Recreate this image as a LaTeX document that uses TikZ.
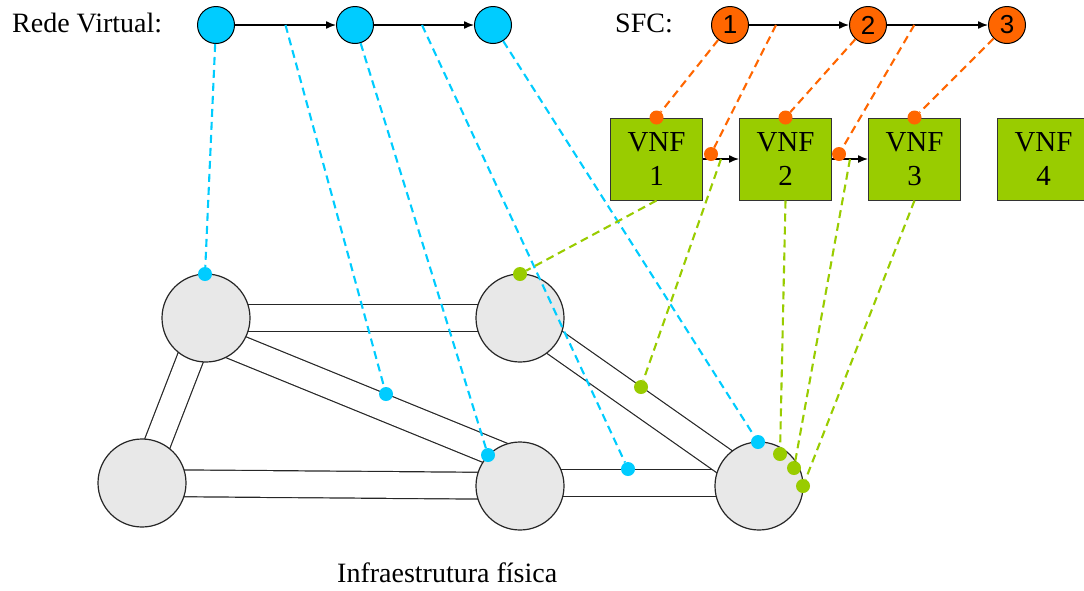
\documentclass[tikz,border=0pt]{standalone}
\usepackage{fontspec}
\setmainfont{Liberation Serif}
\newfontfamily\numfont{Liberation Sans}
\usetikzlibrary{arrows.meta,positioning,backgrounds}
\definecolor{vblue}{HTML}{00CCFF}
\definecolor{sorange}{HTML}{FF6600}
\definecolor{fgreen}{HTML}{99CC00}
\definecolor{pgray}{HTML}{E8E8E8}
\tikzset{
    %Define standard arrow tip
    >={Latex[length=10pt,width=8pt]},
    %Define style for virtual nodes
    vnode/.style={
           circle,
           draw=black, line width=1pt,
           fill=vblue,
           minimum size=37pt,
           inner sep=0pt},
    sfcnode/.style={
           circle,
           draw=black, line width=1pt,
           fill=sorange,
           minimum size=37pt,
           inner sep=0pt,
           font=\numfont\fontsize{26}{26}\selectfont},
    %Define style for VNF boxes
    vnfbox/.style={
           rectangle,
           draw=black!80, line width=1pt,
           fill=fgreen,
           minimum width=92pt,
           minimum height=82pt,
           align=center,
           font=\fontsize{29}{34}\selectfont},
    %Define style for physical nodes and links
    phys/.style={
           circle,
           draw=black!85, line width=1.2pt,
           fill=pgray,
           minimum size=88pt,
           inner sep=0pt},
    pipe/.style={
           draw=black!85, line width=1.2pt,
           double=white,
           double distance=25.6pt},
    % Define arrow style
    vflow/.style={
           ->,
           line width=1.4pt},
    maplink/.style={
           dash pattern=on 8pt off 5pt,
           line width=2.1pt},
    mapdot/.style={
           circle,
           fill=#1,
           minimum size=14pt,
           inner sep=0pt},
    lbl/.style={
           font=\fontsize{28}{32}\selectfont,
           inner sep=0pt}
}
\begin{document}
\begin{tikzpicture}[x=1pt,y=-1pt]
\useasboundingbox (0,0) rectangle (1084,590);

% virtual network
\node[lbl, anchor=base west] (rvlabel) at (12,32) {Rede Virtual:};
\node[vnode] (vn1) at (216,25) {};
\node[vnode, right=101pt of vn1] (vn2) {};
\node[vnode, right=100pt of vn2] (vn3) {};
\draw[vflow] (vn1) -- coordinate[pos=.5] (m1) (vn2);
\draw[vflow] (vn2) -- coordinate[pos=.48] (m2) (vn3);

% service function chain
\node[lbl, anchor=base west] (sfclabel) at (615,32) {SFC:};
\node[sfcnode] (sfc1) at (730,25) {1};
\node[sfcnode, right=100pt of sfc1] (sfc2) {2};
\node[sfcnode, right=101pt of sfc2] (sfc3) {3};
\draw[vflow] (sfc1) -- coordinate[pos=.27] (s1) (sfc2);
\draw[vflow] (sfc2) -- coordinate[pos=.27] (s2) (sfc3);

% VNFs
\node[vnfbox] (vnf1) at (656.5,159) {VNF\\1};
\node[vnfbox, right=36pt of vnf1] (vnf2) {VNF\\2};
\node[vnfbox, right=36pt of vnf2] (vnf3) {VNF\\3};
\node[vnfbox, right=36pt of vnf3] (vnf4) {VNF\\4};
\draw[vflow] (vnf1) -- coordinate[pos=.5] (f1) (vnf2);
\draw[vflow] (vnf2) -- coordinate[pos=.5] (f2) (vnf3);

% physical infrastructure
\node[phys] (pA) at (206,318) {};
\node[phys] (pB) at (520,318) {};
\node[phys] (pD) at (142,483) {};
\node[phys] (pC) at (520,486) {};
\node[phys] (pE) at (759,486) {};
\begin{scope}[on background layer]
\draw[pipe] (pA.center) -- (pB.center);
\draw[pipe] (pA.center) -- (pD.center);
\draw[pipe] ([yshift=-17pt]pA.center) -- ([yshift=23pt]pC.center);
\draw[pipe] (pD.center) -- (pC.center);
\draw[pipe] ([yshift=3pt]pC.center) -- ([yshift=3pt]pE.center);
\draw[pipe] (pB.center) -- (pE.center);
\end{scope}
\node[lbl, anchor=base west] (infra) at (337,582) {Infraestrutura física};

% mapping points
\node[mapdot=vblue] (bd1) at (205,274) {};
\node[mapdot=vblue] (bd2) at (386,394) {};
\node[mapdot=vblue] (bd3) at (488,455) {};
\node[mapdot=vblue] (bd4) at (628,469) {};
\node[mapdot=vblue] (bd5) at (758,442) {};
\node[mapdot=fgreen] (gd1) at (520,274) {};
\node[mapdot=fgreen] (gd2) at (641,387) {};
\node[mapdot=fgreen] (gd3) at (780,454) {};
\node[mapdot=fgreen] (gd4) at (794,468) {};
\node[mapdot=fgreen] (gd5) at (803,486) {};
\node[mapdot=sorange] (od1) at (vnf1.north) {};
\node[mapdot=sorange] (od2) at (711,154) {};
\node[mapdot=sorange] (od3) at (vnf2.north) {};
\node[mapdot=sorange] (od4) at (839,154) {};
\node[mapdot=sorange] (od5) at (vnf3.north) {};

% mappings
\draw[maplink, vblue] (vn1) -- (bd1);
\draw[maplink, vblue] (m1) -- (bd2);
\draw[maplink, vblue] (vn2) -- (bd3);
\draw[maplink, vblue] (m2) -- (bd4);
\draw[maplink, vblue] (vn3) -- (bd5);
\draw[maplink, sorange] (sfc1) -- (od1);
\draw[maplink, sorange] (s1) -- (od2);
\draw[maplink, sorange] (sfc2) -- (od3);
\draw[maplink, sorange] (s2) -- (od4);
\draw[maplink, sorange] (sfc3) -- (od5);
\draw[maplink, fgreen] (vnf1.south) -- (gd1);
\draw[maplink, fgreen] (f1) -- (gd2);
\draw[maplink, fgreen] (vnf2.south) -- (gd3);
\draw[maplink, fgreen] (f2) -- (gd4);
\draw[maplink, fgreen] (vnf3.south) -- (gd5);
\end{tikzpicture}
\end{document}
